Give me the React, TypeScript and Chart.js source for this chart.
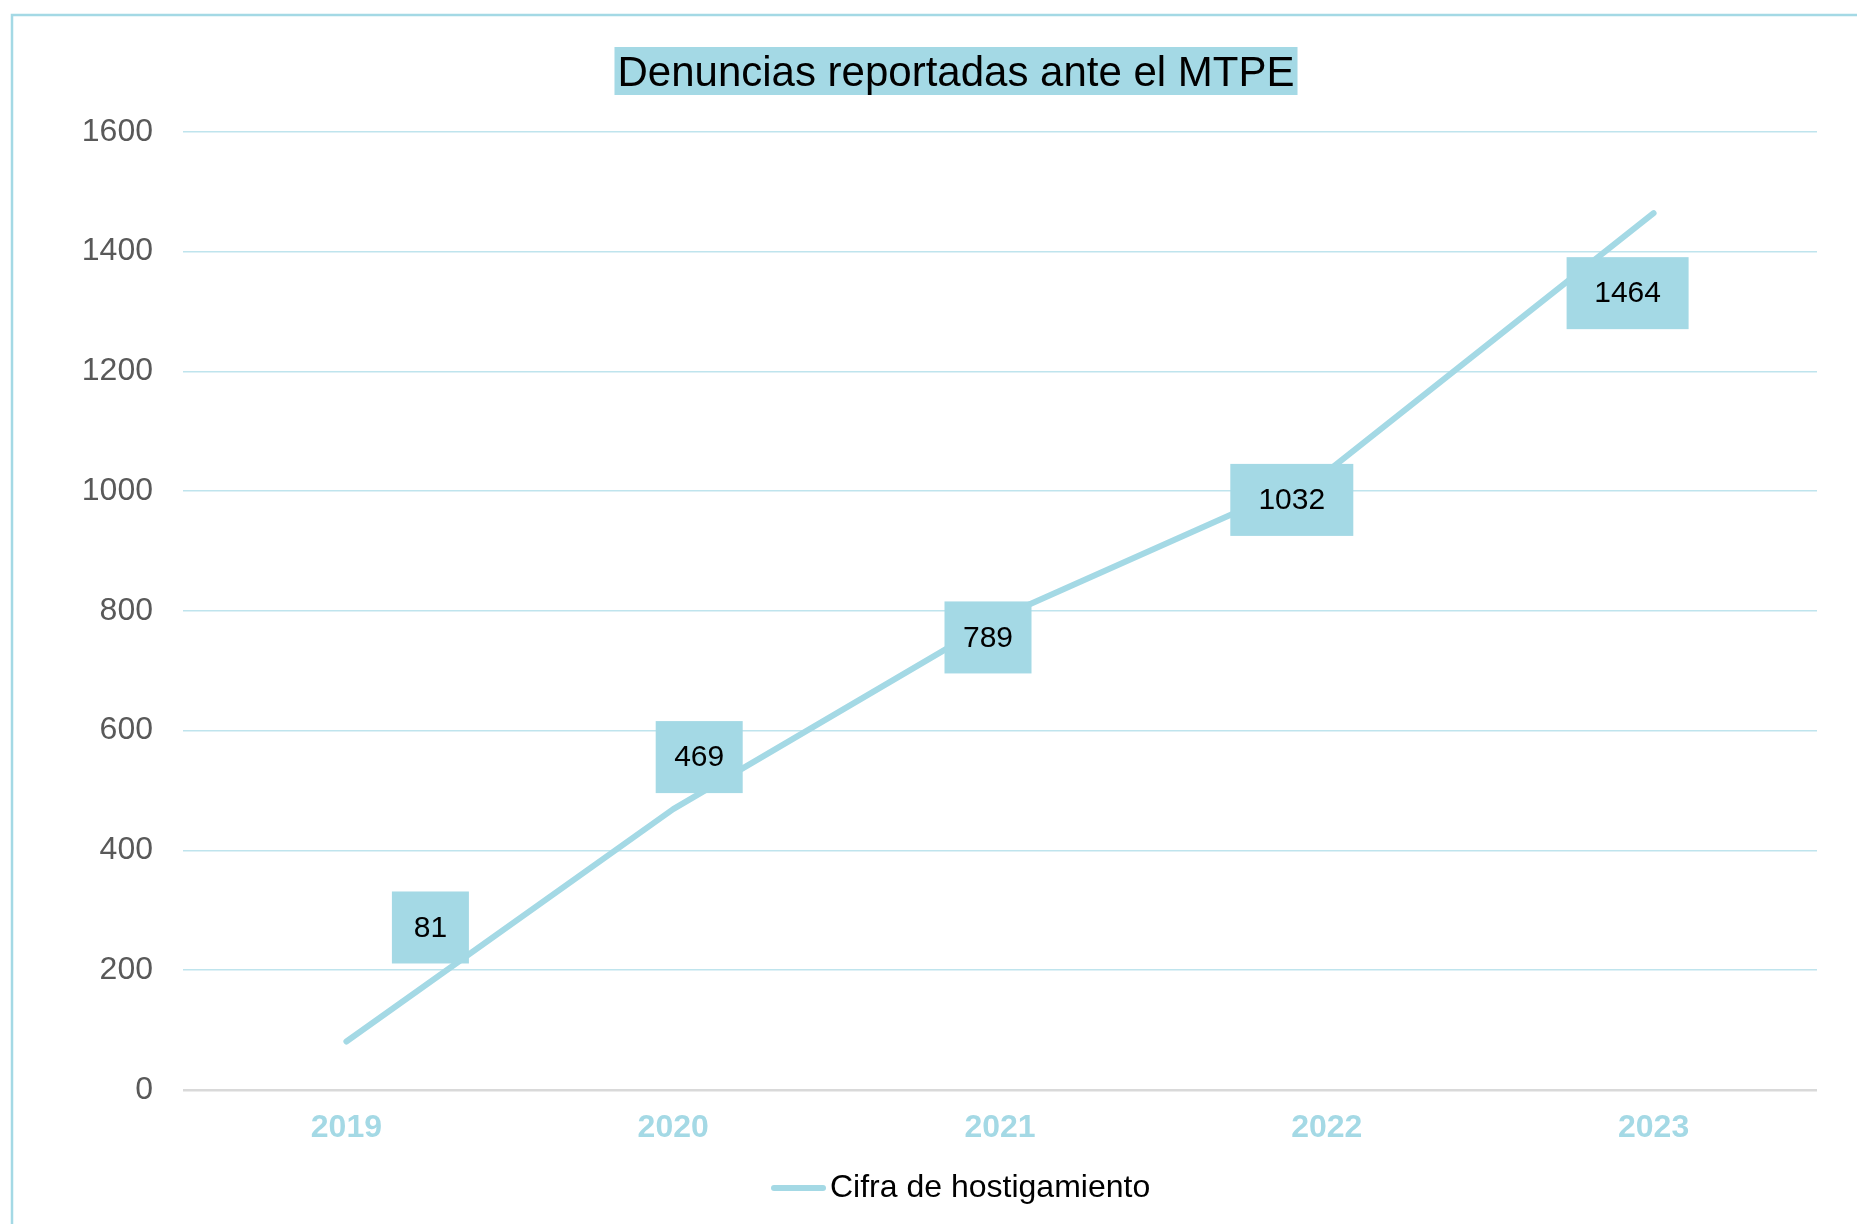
import React, { useEffect, useRef } from 'react';
import { Chart, registerables } from 'chart.js';

Chart.register(...registerables);

// ---- data ----
const TITLE = 'Denuncias reportadas ante el MTPE';
const SERIES_LABEL = 'Cifra de hostigamiento';
const YEARS = ['2019', '2020', '2021', '2022', '2023'];
const DENUNCIAS = [81, 469, 789, 1032, 1464];
const Y_MIN = 0;
const Y_MAX = 1600;
const Y_STEP = 200;

// ---- label box layout (offsets relative to each point, box widths) ----
const LABEL_DX = [84, 26, -12, -35, -26];
const LABEL_DY = [-114, -52, 20, 28, 80];
const LABEL_W = [77, 87, 87, 123, 122];
const LABEL_H = 72;

const W = 1857;
const H = 1224;
const ACCENT = '#a4d9e5';
const FONT = "'Liberation Sans', Arial, sans-serif";

const framePlugin = {
  id: 'frame',
  beforeDraw(chart: any) {
    const ctx = chart.ctx;
    ctx.save();
    ctx.fillStyle = '#ffffff';
    ctx.fillRect(0, 0, W, H);
    ctx.strokeStyle = ACCENT;
    ctx.lineWidth = 2.5;
    ctx.beginPath();
    ctx.moveTo(12, H + 5);
    ctx.lineTo(12, 15);
    ctx.lineTo(W + 5, 15);
    ctx.stroke();

    // title
    ctx.font = `42px ${FONT}`;
    const tw = ctx.measureText(TITLE).width;
    const cx = 956;
    const baseline = 86;
    ctx.fillStyle = ACCENT;
    ctx.fillRect(cx - tw / 2 - 3, 47, tw + 6, 48);
    ctx.fillStyle = '#000000';
    ctx.textAlign = 'center';
    ctx.textBaseline = 'alphabetic';
    ctx.fillText(TITLE, cx, baseline);

    // legend
    const ly = 1188;
    ctx.strokeStyle = ACCENT;
    ctx.lineWidth = 6;
    ctx.lineCap = 'round';
    ctx.beginPath();
    ctx.moveTo(774, ly);
    ctx.lineTo(823, ly);
    ctx.stroke();
    ctx.fillStyle = '#000000';
    ctx.font = `32px ${FONT}`;
    ctx.textAlign = 'left';
    ctx.textBaseline = 'middle';
    ctx.fillText(SERIES_LABEL, 830, ly);
    ctx.restore();
  },
};

const labelPlugin = {
  id: 'valueBoxes',
  afterDatasetsDraw(chart: any) {
    const ctx = chart.ctx;
    const meta = chart.getDatasetMeta(0);
    ctx.save();
    ctx.font = `30px ${FONT}`;
    ctx.textAlign = 'center';
    ctx.textBaseline = 'middle';
    meta.data.forEach((pt: any, i: number) => {
      const cx = pt.x + LABEL_DX[i];
      const cy = pt.y + LABEL_DY[i];
      const bw = LABEL_W[i];
      ctx.fillStyle = ACCENT;
      ctx.fillRect(cx - bw / 2, cy - LABEL_H / 2, bw, LABEL_H);
      ctx.fillStyle = '#000000';
      ctx.fillText(String(DENUNCIAS[i]), cx, cy + 1);
    });
    ctx.restore();
  },
};

export default function App() {
  const ref = useRef<HTMLCanvasElement | null>(null);

  useEffect(() => {
    if (!ref.current) return;
    const chart = new Chart(ref.current, {
      type: 'line',
      data: {
        labels: YEARS,
        datasets: [
          {
            label: SERIES_LABEL,
            data: DENUNCIAS,
            borderColor: ACCENT,
            backgroundColor: ACCENT,
            borderWidth: 6,
            borderCapStyle: 'round',
            borderJoinStyle: 'round',
            pointRadius: 0,
            pointHoverRadius: 0,
            tension: 0,
            fill: false,
          },
        ],
      },
      options: {
        animation: false,
        responsive: false,
        devicePixelRatio: 1,
        events: [],
        layout: { padding: { top: 131.7, right: 40, bottom: 74, left: 0 } },
        plugins: {
          legend: { display: false },
          title: { display: false },
          tooltip: { enabled: false },
        },
        scales: {
          x: {
            offset: true,
            grid: { display: false, drawTicks: false },
            border: { display: false },
            ticks: {
              padding: 19,
              color: ACCENT,
              font: { family: FONT, size: 32, weight: 'bold' },
            },
            afterFit(scale: any) {
              scale.height = 60;
            },
          },
          y: {
            min: Y_MIN,
            max: Y_MAX,
            grid: {
              drawTicks: false,
              color: (c: any) => (c.tick && c.tick.value === 0 ? '#d9d9d9' : '#bfe4ed'),
              lineWidth: (c: any) => (c.tick && c.tick.value === 0 ? 2.5 : 1.5),
            },
            border: { display: false },
            ticks: {
              stepSize: Y_STEP,
              padding: 30,
              color: '#595959',
              font: { family: FONT, size: 32 },
              callback: (v: any) => String(v),
            },
            afterFit(scale: any) {
              scale.width = 183;
            },
          },
        },
      },
      plugins: [framePlugin, labelPlugin],
    } as any);
    return () => chart.destroy();
  }, []);

  return (
    <div
      style={{
        position: 'fixed',
        left: 0,
        top: 0,
        width: W,
        height: H,
        overflow: 'hidden',
        background: '#ffffff',
      }}
    >
      <canvas ref={ref} width={W} height={H} style={{ display: 'block', width: W, height: H }} />
    </div>
  );
}
